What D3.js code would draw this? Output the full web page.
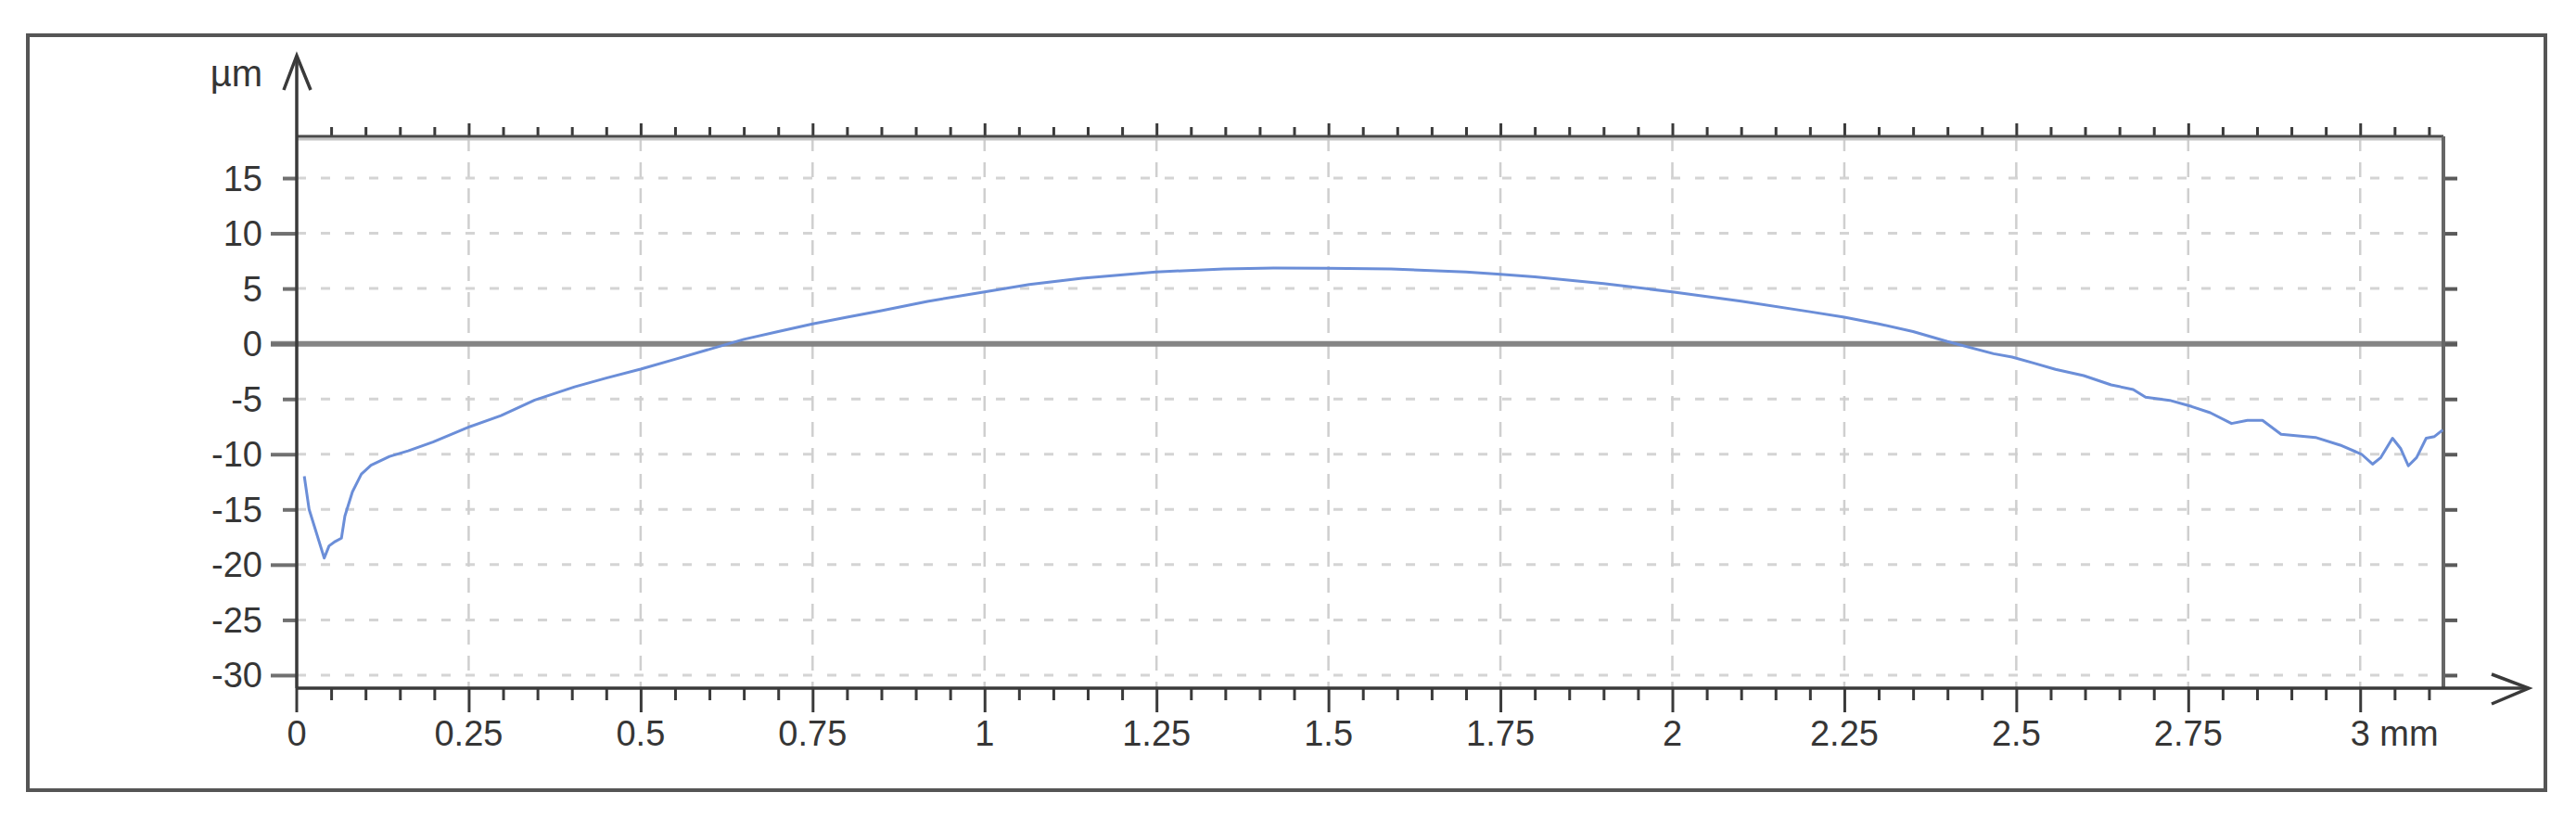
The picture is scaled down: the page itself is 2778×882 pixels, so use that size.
<!DOCTYPE html>
<html>
<head>
<meta charset="utf-8">
<script src="https://cdn.jsdelivr.net/npm/d3@7"></script>
<style>
  html, body { margin: 0; padding: 0; background: #fff; }
  svg { display: block; }
  text { font-family: "Liberation Sans", Arial, sans-serif; fill: #363636; }
</style>
</head>
<body>
<svg id="chart" width="2778" height="882"></svg>
<script>
// profile trace, x in mm, y in µm
const profileX = [0.011, 0.018, 0.040, 0.047, 0.056, 0.065, 0.070, 0.081, 0.094, 0.108,
    0.135, 0.162, 0.198, 0.252, 0.297, 0.346, 0.404, 0.45, 0.5, 0.55,
    0.6, 0.65, 0.7, 0.75, 0.8, 0.85, 0.917, 0.998, 1.065, 1.142,
    1.249, 1.348, 1.42, 1.497, 1.591, 1.7, 1.75, 1.8, 1.9, 2.0,
    2.1, 2.2, 2.25, 2.3, 2.35, 2.4, 2.467, 2.494, 2.526, 2.557,
    2.598, 2.638, 2.670, 2.688, 2.723, 2.755, 2.782, 2.813, 2.836, 2.858,
    2.885, 2.935, 2.971, 3.002, 3.018, 3.03, 3.047, 3.059, 3.070, 3.082,
    3.096, 3.108, 3.12];
const profileY = [-12.0, -15.0, -19.4, -18.3, -17.9, -17.6, -15.6, -13.4, -11.8, -11.0,
    -10.2, -9.7, -8.9, -7.5, -6.5, -5.1, -3.9, -3.1, -2.3, -1.4,
    -0.5, 0.4, 1.1, 1.8, 2.4, 3.0, 3.84, 4.68, 5.37, 5.94,
    6.5, 6.78, 6.85, 6.83, 6.78, 6.5, 6.3, 6.05, 5.45, 4.7,
    3.85, 2.9, 2.4, 1.8, 1.1, 0.2, -0.9, -1.2, -1.76, -2.32,
    -2.88, -3.72, -4.14, -4.84, -5.12, -5.68, -6.24, -7.22, -6.94, -6.94,
    -8.2, -8.48, -9.18, -10.0, -10.9, -10.3, -8.55, -9.5, -11.05, -10.3,
    -8.55, -8.4, -7.8];

const xTickValues = [0, 0.25, 0.5, 0.75, 1, 1.25, 1.5, 1.75, 2, 2.25, 2.5, 2.75, 3];
const xTickLabels = ["0", "0.25", "0.5", "0.75", "1", "1.25", "1.5", "1.75", "2", "2.25", "2.5", "2.75", "3 mm"];
const yTickValues = [15, 10, 5, 0, -5, -10, -15, -20, -25, -30];
const yTickLabels = ["15", "10", "5", "0", "-5", "-10", "-15", "-20", "-25", "-30"];
const yUnit = "µm";

const svg = d3.select("#chart");
const plot = { left: 320, right: 2635, top: 147, bottom: 742 };

const x = d3.scaleLinear().domain([0, 3.121]).range([plot.left, plot.right]);
const y = d3.scaleLinear().domain([-31.18, 18.78]).range([plot.bottom, plot.top]);

const minorX = d3.range(1, 63).map(i => +(i * 0.05).toFixed(2));
const gridX = xTickValues.filter(v => v > 0);
const isMajorX = d => Math.abs(d / 0.25 - Math.round(d / 0.25)) < 1e-6;

// outer frame
svg.append("rect")
    .attr("x", 30).attr("y", 38)
    .attr("width", 2715).attr("height", 814)
    .attr("fill", "none")
    .attr("stroke", "#555")
    .attr("stroke-width", 4);

// horizontal dashed grid
svg.append("g")
    .selectAll("line")
    .data(yTickValues.filter(v => v !== 0))
    .join("line")
    .attr("x1", plot.left).attr("x2", plot.right)
    .attr("y1", d => y(d)).attr("y2", d => y(d))
    .attr("stroke", "#d4d4d4")
    .attr("stroke-width", 3)
    .attr("stroke-dasharray", "10,16");

// vertical dashed grid
svg.append("g")
    .selectAll("line")
    .data(gridX)
    .join("line")
    .attr("x1", d => x(d)).attr("x2", d => x(d))
    .attr("y1", plot.top).attr("y2", plot.bottom)
    .attr("stroke", "#cfcfcf")
    .attr("stroke-width", 2.5)
    .attr("stroke-dasharray", "16,12");

// zero line
svg.append("line")
    .attr("x1", plot.left - 28).attr("x2", plot.right + 15)
    .attr("y1", y(0)).attr("y2", y(0))
    .attr("stroke", "#858585")
    .attr("stroke-width", 6);

// top axis (minor ticks up)
svg.append("g")
    .attr("transform", `translate(0, ${plot.top})`)
    .call(d3.axisTop(x).tickValues(minorX).tickFormat("").tickSize(10))
    .call(g => g.select(".domain").remove())
    .call(g => g.selectAll(".tick line")
        .attr("y2", d => isMajorX(d) ? -14 : -10)
        .attr("stroke", "#3a3a3a").attr("stroke-width", 3));
svg.append("line")
    .attr("x1", plot.left).attr("x2", plot.right)
    .attr("y1", plot.top + 3).attr("y2", plot.top + 3)
    .attr("stroke", "#c4c4c4").attr("stroke-width", 3);
svg.append("line")
    .attr("x1", plot.left).attr("x2", plot.right)
    .attr("y1", plot.top).attr("y2", plot.top)
    .attr("stroke", "#4a4a4a").attr("stroke-width", 3);

// right axis
svg.append("g")
    .attr("transform", `translate(${plot.right}, 0)`)
    .call(d3.axisRight(y).tickValues(yTickValues).tickFormat("").tickSize(15))
    .call(g => g.select(".domain").remove())
    .call(g => g.selectAll(".tick line").attr("stroke", "#5a5a5a").attr("stroke-width", 4));
svg.append("line")
    .attr("x1", plot.right).attr("x2", plot.right)
    .attr("y1", plot.top).attr("y2", plot.bottom)
    .attr("stroke", "#666").attr("stroke-width", 4);

// bottom axis ticks
svg.append("g")
    .attr("transform", `translate(0, ${plot.bottom})`)
    .call(d3.axisBottom(x).tickValues(minorX).tickFormat("").tickSize(13))
    .call(g => g.select(".domain").remove())
    .call(g => g.selectAll(".tick line")
        .attr("y2", d => isMajorX(d) ? 26 : 13)
        .attr("stroke", "#3a3a3a").attr("stroke-width", 3));
svg.append("line")
    .attr("x1", x(0)).attr("x2", x(0))
    .attr("y1", plot.bottom).attr("y2", plot.bottom + 26)
    .attr("stroke", "#3a3a3a").attr("stroke-width", 3);

// left axis ticks
svg.append("g")
    .attr("transform", `translate(${plot.left}, 0)`)
    .call(d3.axisLeft(y).tickValues(yTickValues).tickFormat("").tickSize(15))
    .call(g => g.select(".domain").remove())
    .call(g => g.selectAll(".tick line")
        .attr("x2", d => d % 10 === 0 ? -28 : -15)
        .attr("stroke", "#707070").attr("stroke-width", 4));

// axis lines with open arrows
svg.append("line")
    .attr("x1", plot.left).attr("x2", plot.left)
    .attr("y1", plot.bottom).attr("y2", 60)
    .attr("stroke", "#3a3a3a").attr("stroke-width", 3.5);
svg.append("polyline")
    .attr("points", [[plot.left - 14, 97], [plot.left, 60], [plot.left + 15, 97]].join(" "))
    .attr("fill", "none").attr("stroke", "#3a3a3a").attr("stroke-width", 3.5);
svg.append("line")
    .attr("x1", plot.left).attr("x2", 2727)
    .attr("y1", plot.bottom).attr("y2", plot.bottom)
    .attr("stroke", "#3a3a3a").attr("stroke-width", 3.5);
svg.append("polyline")
    .attr("points", [[2687, plot.bottom - 15], [2727, plot.bottom], [2687, plot.bottom + 17]].join(" "))
    .attr("fill", "none").attr("stroke", "#3a3a3a").attr("stroke-width", 3.5);

// profile curve
const line = d3.line()
    .x(d => x(d[0]))
    .y(d => y(d[1]));
svg.append("path")
    .datum(profileX.map((v, i) => [v, profileY[i]]))
    .attr("d", line)
    .attr("fill", "none")
    .attr("stroke", "#6b8ed8")
    .attr("stroke-width", 3)
    .attr("stroke-linejoin", "round");

// labels
svg.append("g")
    .selectAll("text")
    .data(yTickValues)
    .join("text")
    .attr("x", 283)
    .attr("y", d => y(d) + 13.5)
    .attr("text-anchor", "end")
    .attr("font-size", 38)
    .text((d, i) => yTickLabels[i]);

const xLabels = svg.append("g")
    .selectAll("text")
    .data(xTickValues)
    .join("text")
    .attr("x", d => x(d))
    .attr("y", 804)
    .attr("text-anchor", "middle")
    .attr("font-size", 38)
    .text((d, i) => xTickLabels[i]);

// last label: centre the "3" on its tick, unit follows
const lastLabel = xLabels.filter((d, i) => i === xTickLabels.length - 1);
const digitW = lastLabel.node().getSubStringLength(0, 1);
lastLabel.attr("text-anchor", "start").attr("x", x(3) - digitW / 2);

svg.append("text")
    .attr("x", 283)
    .attr("y", 93)
    .attr("text-anchor", "end")
    .attr("font-size", 40)
    .text(yUnit);
</script>
</body>
</html>
